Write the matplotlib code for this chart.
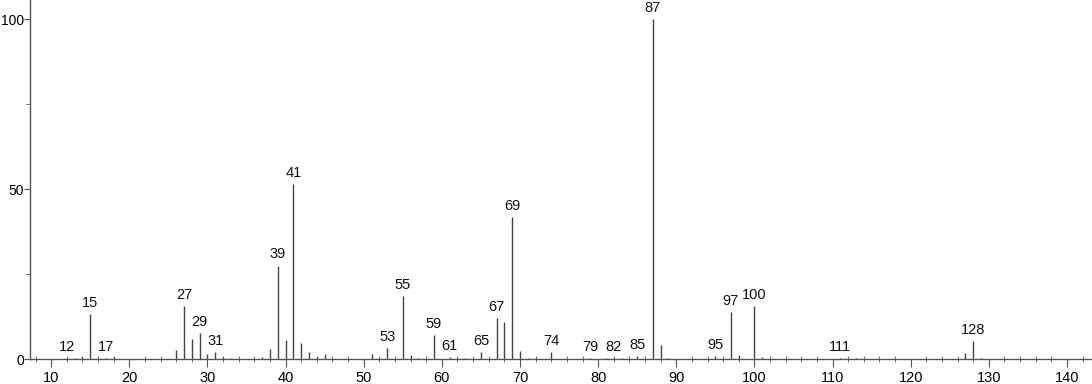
import matplotlib.pyplot as plt
from matplotlib.ticker import MultipleLocator

plt.rcParams['font.family'] = ['Liberation Sans', 'DejaVu Sans']

# m/z values and relative intensities
mz = [12, 13, 14, 15, 16, 17, 18, 26, 27, 28, 29, 30, 31, 32, 33, 37, 38, 39, 40,
      41, 42, 43, 44, 45, 51, 52, 53, 55, 56, 57, 59, 60, 61, 62, 63, 65, 67, 68,
      69, 70, 71, 72, 74, 79, 81, 82, 83, 85, 87, 88, 89, 95, 97, 98, 100, 101,
      111, 113, 127, 128, 129]
intensity = [0.4, 0.4, 0.7, 13.4, 0.5, 0.4, 0.7, 2.8, 15.6, 5.9, 7.8, 1.5, 2.2, 0.6,
             0.3, 0.8, 3.0, 27.6, 5.6, 51.6, 4.9, 2.2, 0.7, 1.7, 1.5, 0.3, 3.4,
             18.6, 1.2, 0.5, 7.2, 0.2, 0.7, 0.4, 0.4, 2.1, 12.1, 11.1, 41.9, 2.4,
             0.4, 0.3, 2.1, 0.4, 0.4, 0.3, 0.4, 1.1, 100.0, 4.2, 0.4, 1.1, 14.0,
             1.2, 15.6, 0.7, 0.3, 0.4, 1.8, 5.5, 0.4]

# peaks that carry a label
labelled = [12, 15, 17, 27, 29, 31, 39, 41, 53, 55, 59, 61, 65, 67, 69, 74, 79, 82,
            85, 87, 95, 97, 100, 111, 128]

axis_color = '#555555'
peak_color = '#444444'

fig = plt.figure(figsize=(10.92, 3.84), dpi=100)
ax = fig.add_axes([0.0275, 0.064, 0.9725, 0.936])

ax.vlines(mz, 0, intensity, color=peak_color, linewidth=1)

heights = dict(zip(mz, intensity))
for m in labelled:
    ax.annotate(str(m), (m, heights[m]), xytext=(0, 3), textcoords='offset points',
                ha='center', va='bottom', fontsize=10.5, color='#111111')

ax.set_xlim(7.3, 143.2)
ax.set_ylim(0, 105.7)

ax.xaxis.set_major_locator(MultipleLocator(10))
ax.xaxis.set_minor_locator(MultipleLocator(2))
ax.yaxis.set_major_locator(MultipleLocator(50))
ax.yaxis.set_minor_locator(MultipleLocator(25))

ax.tick_params(axis='x', which='major', direction='out', length=6, color=axis_color,
               labelsize=10.5, pad=2)
ax.tick_params(axis='x', which='minor', direction='inout', length=5, color=axis_color)
ax.tick_params(axis='y', which='major', direction='out', length=4, color=axis_color,
               labelsize=10, pad=0.5)
ax.tick_params(axis='y', which='minor', direction='out', length=3, color=axis_color)

for side in ['top', 'right']:
    ax.spines[side].set_visible(False)
for side in ['left', 'bottom']:
    ax.spines[side].set_color(axis_color)
    ax.spines[side].set_linewidth(1)

fig.savefig('out.png', dpi=100)
